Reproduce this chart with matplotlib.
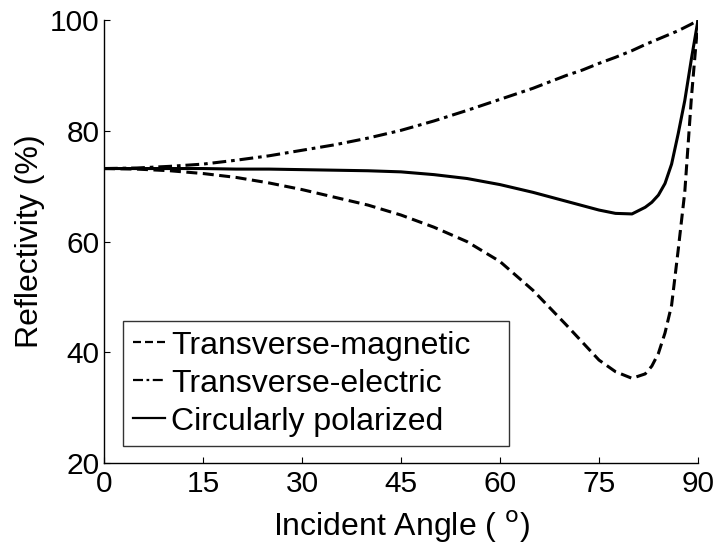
import numpy as np
import matplotlib
matplotlib.use('Agg')
import matplotlib.pyplot as plt

plt.rcParams['font.family'] = ['Liberation Sans', 'DejaVu Sans']

# Incident angle (degrees) and reflectivity (%) for each polarization
angle = [0, 5, 10, 15, 20, 25, 30, 35, 40, 45, 50, 55, 60, 65, 70,
         72.5, 75, 77.5, 80, 82, 83, 84, 85, 86, 87, 88, 89, 90]
tm = [73.2, 73.1, 72.8, 72.3, 71.6, 70.6, 69.4, 68.0, 66.6, 64.8, 62.6, 60.0,
      56.4, 51.2, 45.0, 41.8, 38.6, 36.5, 35.3, 36.1, 37.5, 39.8, 43.5, 48.5,
      58.5, 69.0, 86.0, 100.0]
te = [73.2, 73.3, 73.6, 74.0, 74.7, 75.5, 76.5, 77.5, 78.7, 80.1, 81.8, 83.7,
      85.7, 87.7, 90.0, 91.0, 92.2, 93.3, 94.5, 95.6, 96.1, 96.6, 97.1, 97.6,
      98.1, 98.7, 99.3, 100.0]
circ = [73.2, 73.2, 73.2, 73.2, 73.1, 73.1, 73.0, 72.9, 72.8, 72.6, 72.1, 71.4,
        70.3, 68.9, 67.3, 66.5, 65.7, 65.1, 65.0, 66.2, 67.1, 68.4, 70.5, 74.0,
        79.5, 85.5, 93.0, 100.0]

fig = plt.figure(figsize=(7.17, 5.46), dpi=100)
ax = fig.add_axes([0.145, 0.152, 0.8285, 0.811])

ax.plot(angle, tm, color='k', lw=2.2, dashes=(3.6, 1.8), label='Transverse-magnetic')
ax.plot(angle, te, color='k', lw=2.2, dashes=(4.5, 1.6, 1.2, 1.6), label='Transverse-electric')
ax.plot(angle, circ, color='k', lw=2.2, label='Circularly polarized')

ax.set_xlim(0, 90)
ax.set_ylim(20, 100)
ax.set_xticks([0, 15, 30, 45, 60, 75, 90])
ax.set_yticks([20, 40, 60, 80, 100])
ax.spines['top'].set_visible(False)
ax.spines['right'].set_visible(False)
for s in ['left', 'bottom']:
    ax.spines[s].set_linewidth(1.0)
ax.tick_params(direction='in', length=4, width=0.8, labelsize=21.5, pad=5)
ax.tick_params(axis='y', pad=3)

ax.set_xlabel('Incident Angle ( $^{\\mathrm{o}}$)', fontsize=23, labelpad=8)
ax.set_ylabel('Reflectivity (%)', fontsize=23, labelpad=4)

# legend box stretched to a fixed width, text left-aligned
leg = ax.legend(loc='lower left', bbox_to_anchor=(0.032, 0.038, 0.65, 0.27),
                mode='expand', fontsize=23, frameon=True, fancybox=False,
                handlelength=1.0, handletextpad=0.2, borderpad=0.3,
                labelspacing=0.25, borderaxespad=0)
leg.get_frame().set_edgecolor('k')
leg.get_frame().set_linewidth(1.0)
for h in leg.get_lines():
    h.set_linewidth(1.6)

fig.savefig('out.png', dpi=100)
